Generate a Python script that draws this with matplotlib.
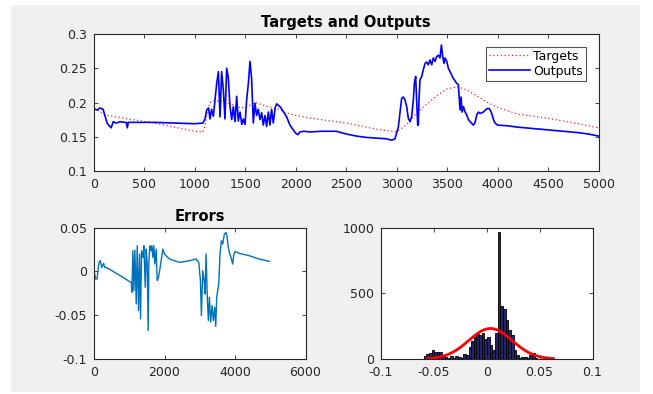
import numpy as np
import matplotlib
matplotlib.use("Agg")
import matplotlib.pyplot as plt
from matplotlib.patches import Rectangle

plt.rcParams['font.family'] = ['DejaVu Sans']

# ---------------- data ----------------
out_x = [0, 30, 60, 90, 110, 130, 150, 170, 190, 220, 260, 300, 320, 330, 340, 400, 600, 800, 1000,
         1080, 1100, 1117, 1135, 1150, 1165, 1183, 1200, 1216, 1233, 1249, 1265, 1282, 1298, 1315, 1330,
         1348, 1365, 1381, 1398, 1414, 1430, 1447, 1465, 1480, 1497, 1513, 1530, 1546, 1562, 1579, 1595,
         1612, 1628, 1645, 1662, 1678, 1695, 1711, 1728, 1744, 1760, 1777, 1795, 1810, 1843, 1876, 1909,
         1942, 1975, 2000, 2020, 2042, 2080, 2141, 2250, 2400, 2500, 2600, 2700, 2800, 2900, 2950, 2983,
         3016, 3040, 3049, 3066, 3082, 3099, 3115, 3132, 3148, 3165, 3175, 3188, 3198, 3208, 3214, 3221,
         3231, 3248, 3264, 3281, 3297, 3313, 3330, 3347, 3363, 3380, 3396, 3413, 3429, 3443, 3456, 3469,
         3479, 3496, 3512, 3529, 3562, 3595, 3611, 3621, 3628, 3638, 3648, 3661, 3678, 3694, 3711, 3727,
         3760, 3777, 3793, 3810, 3826, 3859, 3892, 3919, 3942, 3959, 3975, 4000, 4100, 4200, 4350, 4500,
         4650, 4800, 4900, 5000]
out_y = [0.191, 0.189, 0.192, 0.190, 0.180, 0.170, 0.166, 0.163, 0.172, 0.170, 0.172, 0.171, 0.171, 0.163,
         0.171, 0.171, 0.171, 0.170, 0.169,
         0.170, 0.176, 0.189, 0.192, 0.176, 0.190, 0.180, 0.205, 0.228, 0.245, 0.179, 0.245, 0.218, 0.176,
         0.250, 0.238, 0.194, 0.175, 0.194, 0.172, 0.209, 0.173, 0.186, 0.168, 0.176, 0.168, 0.204, 0.228,
         0.260, 0.235, 0.170, 0.199, 0.181, 0.190, 0.175, 0.185, 0.167, 0.181, 0.165, 0.186, 0.167, 0.190,
         0.170, 0.192, 0.198, 0.194, 0.187, 0.179, 0.167, 0.160, 0.155, 0.153, 0.157, 0.158, 0.157, 0.158,
         0.158, 0.154, 0.151, 0.149, 0.148, 0.147, 0.145, 0.147,
         0.164, 0.194, 0.206, 0.208, 0.204, 0.194, 0.177, 0.172, 0.179, 0.204, 0.228, 0.238, 0.204, 0.167,
         0.167, 0.204, 0.233, 0.238, 0.248, 0.257, 0.259, 0.255, 0.262, 0.255, 0.265, 0.260, 0.267, 0.269,
         0.265, 0.284, 0.267, 0.257, 0.265, 0.260, 0.250, 0.245, 0.235, 0.228, 0.226, 0.204, 0.189, 0.208,
         0.186, 0.194, 0.186, 0.182, 0.175, 0.172, 0.167, 0.171, 0.182, 0.186, 0.184, 0.186, 0.191, 0.191,
         0.184, 0.175, 0.170, 0.167, 0.166, 0.164, 0.162, 0.160, 0.158, 0.156, 0.154, 0.151]

tgt_x = [0, 60, 100, 300, 600, 900, 1000, 1080, 1100, 1120, 1150, 1200, 1300, 1400, 1450, 1500, 1600,
         1700, 1800, 1900, 2000, 2200, 2500, 2800, 3000, 3100, 3200, 3300, 3400, 3500, 3600, 3700, 3800,
         3900, 4000, 4200, 4500, 4800, 5000]
tgt_y = [0.190, 0.187, 0.182, 0.177, 0.170, 0.161, 0.158, 0.157, 0.165, 0.185, 0.200, 0.203, 0.200,
         0.196, 0.192, 0.193, 0.200, 0.195, 0.192, 0.185, 0.181, 0.176, 0.170, 0.161, 0.157, 0.168,
         0.185, 0.198, 0.210, 0.220, 0.223, 0.218, 0.209, 0.200, 0.193, 0.183, 0.177, 0.169, 0.163]

err_x = [0, 47, 85, 142, 179, 217, 274, 302, 349, 585, 821, 1009, 1057, 1075, 1104, 1132, 1160, 1198,
         1226, 1264, 1292, 1321, 1349, 1387, 1415, 1453, 1481, 1509, 1538, 1557, 1585, 1613, 1642, 1670,
         1698, 1726, 1764, 1792, 1830, 1877, 1953, 2000, 2142, 2425, 2708, 2896, 2972, 3019, 3047, 3085,
         3123, 3151, 3179, 3217, 3245, 3274, 3311, 3349, 3387, 3425, 3453, 3481, 3538, 3575, 3613, 3651,
         3698, 3745, 3774, 3802, 3840, 3887, 3934, 3962, 4000, 4123, 4406, 4689, 4972]
err_y = [0.0008, -0.0087, -0.0087, 0.0102, 0.0121, 0.0045, 0.0091, 0.0045, 0.0045, -0.0011, -0.0068,
         -0.0117, -0.0125, -0.0239, 0.0235, -0.0220, 0.0242, -0.0371, 0.0292, -0.0447, 0.0197, -0.0542,
         0.0235, 0.0159, 0.0292, -0.0182, 0.0254, 0.0083, -0.0674, 0.0121, 0.0292, 0.0235, 0.0292, 0.0159,
         0.0292, 0.0083, 0.0254, -0.0106, -0.0068, 0.0045, 0.0254, 0.0197, 0.0140, 0.0102, 0.0121, 0.0140,
         0.0102, -0.0106, -0.0504, 0.0008, -0.0106, -0.0258, 0.0197, -0.0333, -0.0561, -0.0295, -0.0580,
         -0.0390, -0.0561, -0.0409, -0.0629, -0.0295, -0.0144, 0.0197, 0.0349, 0.0311, 0.0424, 0.0443,
         0.0405, 0.0292, 0.0216, 0.0159, 0.0083, 0.0178, 0.0227, 0.0205, 0.0178, 0.0140, 0.0114]

# histogram: left bin edges (width 0.0025) and counts
hist_left = [-0.0597, -0.0572, -0.0547, -0.0522, -0.0497, -0.0472, -0.0447, -0.0422, -0.0397, -0.0372,
             -0.0347, -0.0322, -0.0297, -0.0272, -0.0247, -0.0222, -0.0197, -0.0172, -0.0147, -0.0122,
             -0.0097, -0.0072, -0.0047, -0.0022, 0.0003, 0.0028, 0.0053, 0.0078, 0.0103, 0.0128, 0.0153,
             0.0178, 0.0203, 0.0228, 0.0253, 0.0278, 0.0303, 0.0328, 0.0353, 0.0378, 0.0403, 0.0428, 0.0453]
hist_count = [20, 35, 45, 65, 50, 55, 50, 25, 15, 10, 20, 8, 25, 12, 8, 40, 30, 90, 135, 170, 188, 182,
              195, 155, 170, 105, 65, 195, 965, 400, 380, 295, 220, 180, 65, 28, 10, 18, 12, 8, 30, 45, 10]
bin_width = 0.0025

# normal fit parameters (histfit)
fit_mu = 0.0035
fit_sigma = 0.0205
fit_peak = 232
fit_range = (-0.056, 0.063)

# ---------------- figure ----------------
fig = plt.figure(figsize=(6.53, 3.94), dpi=100, facecolor='white')
fig.patches.append(Rectangle((11 / 653, 2 / 394), 629 / 653, 387 / 394, transform=fig.transFigure,
                             facecolor='#f0f0f0', edgecolor='none', zorder=-10))

tc = '#262626'
fs = 9
tfs = 10.5


def style(ax):
    ax.set_facecolor('white')
    for s in ax.spines.values():
        s.set_color(tc)
        s.set_linewidth(0.8)
    ax.tick_params(direction='in', top=True, right=True, length=3, width=0.6,
                   colors=tc, labelsize=fs)
    ax.tick_params(axis='x', pad=5)
    ax.tick_params(axis='y', pad=5)


ax1 = fig.add_axes([94 / 653, 1 - 171 / 394, 504.5 / 653, 137 / 394])
ax1.plot(tgt_x, tgt_y, color='#ff2020', linestyle=(0, (1, 2)), linewidth=0.9, label='Targets')
ax1.plot(out_x, out_y, color='#0000ff', linewidth=1.2, label='Outputs')
ax1.set_xlim(0, 5000)
ax1.set_ylim(0.1, 0.3)
ax1.set_xticks(np.arange(0, 5001, 500))
ax1.set_yticks([0.1, 0.15, 0.2, 0.25, 0.3])
ax1.set_yticklabels(['0.1', '0.15', '0.2', '0.25', '0.3'])
ax1.set_title('Targets and Outputs', fontsize=tfs, fontweight='bold', pad=5, color='black')
style(ax1)
leg = ax1.legend(loc='upper right', fontsize=fs, frameon=True, fancybox=False,
                 edgecolor=tc, borderpad=0.25, labelspacing=0.15, handlelength=3.3,
                 handletextpad=0.25, borderaxespad=1.0)
leg.get_frame().set_linewidth(0.8)

ax2 = fig.add_axes([94 / 653, 1 - 359 / 394, 211.5 / 653, 131.5 / 394])
ax2.plot(err_x, err_y, color='#0072BD', linewidth=1.0)
ax2.set_xlim(0, 6000)
ax2.set_ylim(-0.1, 0.05)
ax2.set_xticks([0, 2000, 4000, 6000])
ax2.set_yticks([-0.1, -0.05, 0, 0.05])
ax2.set_yticklabels(['-0.1', '-0.05', '0', '0.05'])
ax2.set_title('Errors', fontsize=tfs, fontweight='bold', pad=5, color='black')
style(ax2)

ax3 = fig.add_axes([381 / 653, 1 - 359 / 394, 211.5 / 653, 131.5 / 394])
ax3.bar(hist_left, hist_count, width=bin_width, align='edge', color='#24246e',
        edgecolor='black', linewidth=0.6)
xf = np.linspace(fit_range[0], fit_range[1], 200)
ax3.plot(xf, fit_peak * np.exp(-0.5 * ((xf - fit_mu) / fit_sigma) ** 2), color='red', linewidth=2)
ax3.set_xlim(-0.1, 0.1)
ax3.set_ylim(0, 1000)
ax3.set_xticks([-0.1, -0.05, 0, 0.05, 0.1])
ax3.set_xticklabels(['-0.1', '-0.05', '0', '0.05', '0.1'])
ax3.set_yticks([0, 500, 1000])
style(ax3)

fig.savefig('out.png', dpi=100, facecolor=fig.get_facecolor())
